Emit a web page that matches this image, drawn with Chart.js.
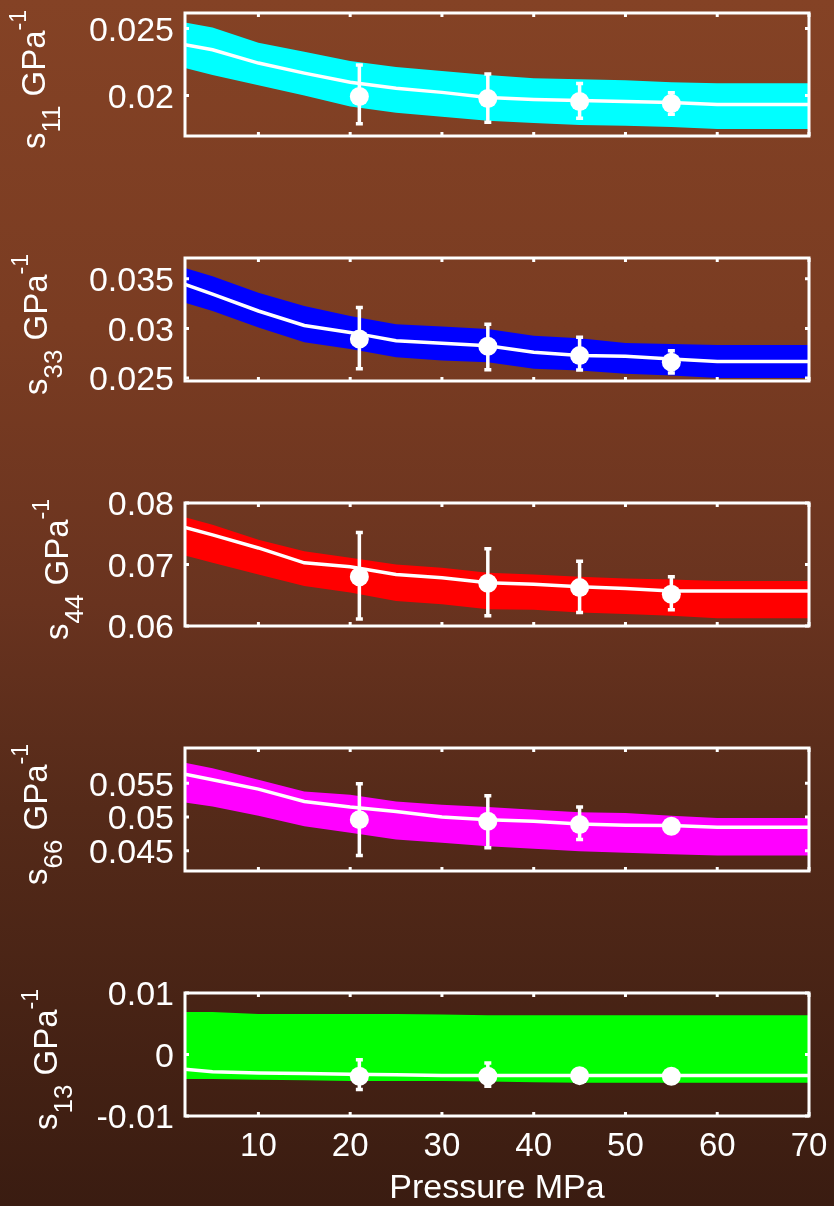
<!DOCTYPE html>
<html>
<head>
<meta charset="utf-8">
<script src="https://cdn.jsdelivr.net/npm/chart.js@4"></script>
<style>
  body { margin: 0; }
  #wrap {
    position: relative; width: 834px; height: 1206px; overflow: hidden;
    background: linear-gradient(#844225 0%, #7a3c22 27%, #69331f 50%, #552a19 67%, #3a1c11 100%);
  }
  #wrap canvas { position: absolute; left: 0; }
</style>
</head>
<body>
<div id="wrap">
  <canvas id="c1" width="834" height="167" style="top:-9px"></canvas>
  <canvas id="c2" width="834" height="167" style="top:236px"></canvas>
  <canvas id="c3" width="834" height="167" style="top:481px"></canvas>
  <canvas id="c4" width="834" height="167" style="top:726px"></canvas>
  <canvas id="c5" width="834" height="235" style="top:971px"></canvas>
</div>
<script>
// pressure grid of the fitted curves and the measured pressures
var pressure = [2, 5, 10, 15, 20, 25, 30, 35, 40, 45, 50, 55, 60, 65, 70];
var measuredP = [21, 35, 45, 55];
var xTicks = [10, 20, 30, 40, 50, 60, 70];

// s11
var s11Fit   = [0.02379, 0.02341, 0.02242, 0.02167, 0.02098, 0.02053, 0.02023, 0.01985, 0.0197, 0.01962, 0.01955, 0.01947, 0.01932, 0.01932, 0.01932];
var s11Upper = [0.02545, 0.02508, 0.02394, 0.02326, 0.02258, 0.02212, 0.02182, 0.02152, 0.02129, 0.02121, 0.02114, 0.02098, 0.02091, 0.02091, 0.02091];
var s11Lower = [0.02205, 0.02152, 0.02076, 0.02, 0.01917, 0.01871, 0.01841, 0.01811, 0.01795, 0.0178, 0.01773, 0.01765, 0.0175, 0.0175, 0.0175];
var s11Meas  = [0.01992, 0.01977, 0.01955, 0.0194];
var s11ErrHi = [0.02227, 0.0216, 0.0209, 0.0202];
var s11ErrLo = [0.01788, 0.018, 0.0183, 0.0186];
var s11Ticks = [0.02, 0.025];

// s33
var s33Fit   = [0.03443, 0.03346, 0.03176, 0.0303, 0.0296, 0.02876, 0.0285, 0.02826, 0.0276, 0.02726, 0.0272, 0.02693, 0.02666, 0.02666, 0.02666];
var s33Upper = [0.0361, 0.03526, 0.0336, 0.03226, 0.03126, 0.03043, 0.0302, 0.02993, 0.02926, 0.029, 0.02853, 0.02843, 0.02833, 0.02833, 0.02833];
var s33Lower = [0.0326, 0.03176, 0.0301, 0.0286, 0.02793, 0.0271, 0.02676, 0.0266, 0.02593, 0.02576, 0.02543, 0.02526, 0.025, 0.025, 0.025];
var s33Meas  = [0.02893, 0.0282, 0.02726, 0.0266];
var s33ErrHi = [0.0321, 0.03043, 0.0291, 0.02776];
var s33ErrLo = [0.02593, 0.02583, 0.0258, 0.0255];
var s33Ticks = [0.025, 0.03, 0.035];

// s44
var s44Fit   = [0.07602, 0.07481, 0.07269, 0.07027, 0.06963, 0.06839, 0.06785, 0.06705, 0.06677, 0.0664, 0.06608, 0.06569, 0.06569, 0.06569, 0.06569];
var s44Upper = [0.0777, 0.07645, 0.07403, 0.07215, 0.07108, 0.07, 0.06946, 0.06866, 0.06839, 0.06802, 0.06774, 0.06758, 0.06731, 0.06731, 0.06731];
var s44Lower = [0.07145, 0.07027, 0.06839, 0.0665, 0.06544, 0.06408, 0.06355, 0.06274, 0.06263, 0.06221, 0.06194, 0.06166, 0.06124, 0.06124, 0.06124];
var s44Meas  = [0.06802, 0.06694, 0.06624, 0.06516];
var s44ErrHi = [0.0752, 0.07258, 0.07053, 0.06802];
var s44ErrLo = [0.06113, 0.06167, 0.06221, 0.06263];
var s44Ticks = [0.06, 0.07, 0.08];

// s66
var s66Fit   = [0.05632, 0.05549, 0.05412, 0.05229, 0.05147, 0.05082, 0.05, 0.0496, 0.04935, 0.04897, 0.04877, 0.04872, 0.04847, 0.04847, 0.04847];
var s66Upper = [0.05803, 0.0572, 0.05549, 0.05377, 0.05328, 0.05229, 0.05181, 0.05147, 0.05107, 0.05068, 0.05059, 0.05019, 0.04985, 0.04985, 0.04985];
var s66Lower = [0.05215, 0.05156, 0.05019, 0.04862, 0.04765, 0.04666, 0.04618, 0.04568, 0.04529, 0.04494, 0.04471, 0.04446, 0.04431, 0.04431, 0.04431];
var s66Meas  = [0.0496, 0.04935, 0.04887, 0.04862];
var s66ErrHi = [0.0549, 0.05313, 0.05147, 0.0489];
var s66ErrLo = [0.0443, 0.04544, 0.04666, 0.04834];
var s66Ticks = [0.045, 0.05, 0.055];

// s13
var s13Fit   = [-0.0024, -0.0028, -0.003, -0.0031, -0.0032, -0.0033, -0.0034, -0.0034, -0.0034, -0.0034, -0.0034, -0.0034, -0.0034, -0.0034, -0.0034];
var s13Upper = [0.0069, 0.0069, 0.0066, 0.0066, 0.0066, 0.0066, 0.0065, 0.0064, 0.0064, 0.0064, 0.0064, 0.0064, 0.0064, 0.0064, 0.0064];
var s13Lower = [-0.004, -0.004, -0.0041, -0.0042, -0.0043, -0.0043, -0.0043, -0.0044, -0.0045, -0.0046, -0.0046, -0.0046, -0.0046, -0.0046, -0.0046];
var s13Meas  = [-0.00355, -0.00355, -0.00344, -0.00355];
var s13ErrHi = [-0.00085, -0.00139, -0.0025, -0.003];
var s13ErrLo = [-0.00569, -0.00516, -0.0044, -0.0041];
var s13Ticks = [-0.01, 0, 0.01];

var FONT = '"Liberation Sans", Arial, sans-serif';

function pts(xs, ys) {
  return xs.map(function (x, i) { return { x: x, y: ys[i] }; });
}

function makePanel(id, p) {
  var deco = {
    id: 'deco',
    afterDatasetsDraw: function (chart) {
      var ctx = chart.ctx, xs = chart.scales.x, ys = chart.scales.y;
      ctx.save();
      ctx.strokeStyle = '#fff';
      ctx.lineWidth = 3.5;
      measuredP.forEach(function (v, i) {
        var px = xs.getPixelForValue(v);
        var t = ys.getPixelForValue(p.hi[i]);
        var b = ys.getPixelForValue(p.lo[i]);
        ctx.beginPath();
        ctx.moveTo(px, t); ctx.lineTo(px, b);
        ctx.moveTo(px - 3.5, t); ctx.lineTo(px + 3.5, t);
        ctx.moveTo(px - 3.5, b); ctx.lineTo(px + 3.5, b);
        ctx.stroke();
      });
      ctx.restore();
    },
    afterDraw: function (chart) {
      var ctx = chart.ctx, a = chart.chartArea;
      var xs = chart.scales.x, ys = chart.scales.y;
      ctx.save();
      ctx.strokeStyle = '#fff';
      ctx.lineWidth = 3;
      ctx.strokeRect(a.left, a.top, a.right - a.left, a.bottom - a.top);
      ctx.beginPath();
      xTicks.forEach(function (v) {
        var px = xs.getPixelForValue(v);
        ctx.moveTo(px, a.bottom); ctx.lineTo(px, a.bottom - 4);
        ctx.moveTo(px, a.top); ctx.lineTo(px, a.top + 4);
      });
      p.ticks.forEach(function (v) {
        var py = ys.getPixelForValue(v);
        ctx.moveTo(a.left, py); ctx.lineTo(a.left + 4, py);
        ctx.moveTo(a.right, py); ctx.lineTo(a.right - 4, py);
      });
      ctx.stroke();

      // rotated y title with subscript and superscript
      var parts = [
        { t: 's', size: 33, dy: 0 },
        { t: p.sub, size: 26, dy: 15 },
        { t: ' GPa', size: 33, dy: 0 },
        { t: '-1', size: 23, dy: -19 }
      ];
      var total = 0;
      parts.forEach(function (q) {
        ctx.font = q.size + 'px ' + FONT;
        q.w = ctx.measureText(q.t).width;
        total += q.w;
      });
      ctx.translate(p.titleX, (a.top + a.bottom) / 2 + 5);
      ctx.rotate(-Math.PI / 2);
      ctx.fillStyle = '#fff';
      ctx.textBaseline = 'alphabetic';
      var x = -total / 2;
      parts.forEach(function (q) {
        ctx.font = q.size + 'px ' + FONT;
        ctx.fillText(q.t, x, q.dy);
        x += q.w;
      });
      ctx.restore();
    }
  };

  var last = !!p.last;
  return new Chart(document.getElementById(id), {
    type: 'scatter',
    data: {
      datasets: [
        { data: pts(pressure, p.upper), showLine: true, fill: '+1', backgroundColor: p.color,
          borderWidth: 0, pointRadius: 0, order: 3 },
        { data: pts(pressure, p.lower), showLine: true, fill: false, backgroundColor: p.color,
          borderWidth: 0, pointRadius: 0, order: 3 },
        { data: pts(pressure, p.fit), showLine: true, fill: false, borderColor: '#fff',
          borderWidth: 3.5, pointRadius: 0, order: 2 },
        { data: pts(measuredP, p.meas), showLine: false, backgroundColor: '#fff',
          pointRadius: 9.5, borderWidth: 0, order: 1 }
      ]
    },
    options: {
      responsive: false,
      animation: false,
      events: [],
      layout: { padding: { top: 22, right: 25, bottom: last ? 0 : 22, left: 0 } },
      plugins: { legend: { display: false }, tooltip: { enabled: false } },
      scales: {
        x: {
          type: 'linear', min: 2, max: 70,
          display: last,
          grid: { display: false, drawTicks: false },
          border: { display: false },
          ticks: { color: '#fff', font: { size: 33, family: FONT }, padding: 11, maxRotation: 0 },
          title: { display: last, text: 'Pressure MPa', color: '#fff',
                   font: { size: 34, family: FONT, lineHeight: 1.05 }, padding: { top: 0, bottom: 0 } },
          afterBuildTicks: function (s) { s.ticks = xTicks.map(function (v) { return { value: v }; }); },
          afterFit: function (s) { s.paddingLeft = 0; s.paddingRight = 0; if (last) s.height = 90; }
        },
        y: {
          type: 'linear', min: p.min, max: p.max,
          grid: { display: false, drawTicks: false },
          border: { display: false },
          ticks: { color: '#fff', font: { size: 34, family: FONT }, padding: 11, labelOffset: 3,
                   callback: function (v) { return String(v); } },
          afterBuildTicks: function (s) { s.ticks = p.ticks.map(function (v) { return { value: v }; }); },
          afterFit: function (s) { s.width = 185; s.paddingTop = 0; s.paddingBottom = 0; }
        }
      }
    },
    plugins: [deco]
  });
}

makePanel('c1', { fit: s11Fit, upper: s11Upper, lower: s11Lower, meas: s11Meas, hi: s11ErrHi, lo: s11ErrLo,
  ticks: s11Ticks, min: 0.01697, max: 0.02616, color: '#00ffff', sub: '11', titleX: 45 });
makePanel('c2', { fit: s33Fit, upper: s33Upper, lower: s33Lower, meas: s33Meas, hi: s33ErrHi, lo: s33ErrLo,
  ticks: s33Ticks, min: 0.0247, max: 0.0371, color: '#0000ff', sub: '33', titleX: 47 });
makePanel('c3', { fit: s44Fit, upper: s44Upper, lower: s44Lower, meas: s44Meas, hi: s44ErrHi, lo: s44ErrLo,
  ticks: s44Ticks, min: 0.06, max: 0.08, color: '#ff0000', sub: '44', titleX: 68 });
makePanel('c4', { fit: s66Fit, upper: s66Upper, lower: s66Lower, meas: s66Meas, hi: s66ErrHi, lo: s66ErrLo,
  ticks: s66Ticks, min: 0.042, max: 0.0602, color: '#ff00ff', sub: '66', titleX: 47 });
makePanel('c5', { fit: s13Fit, upper: s13Upper, lower: s13Lower, meas: s13Meas, hi: s13ErrHi, lo: s13ErrLo,
  ticks: s13Ticks, min: -0.01, max: 0.01, color: '#00ff00', sub: '13', titleX: 57, last: true });
</script>
</body>
</html>
